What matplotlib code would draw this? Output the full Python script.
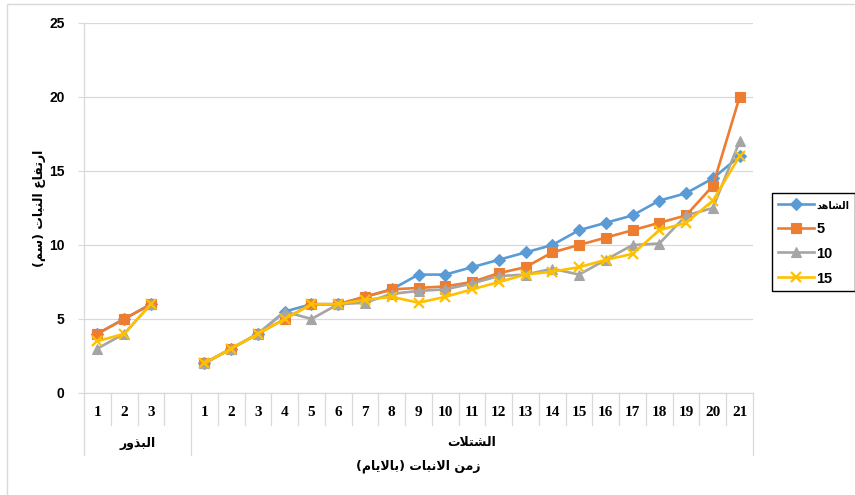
import numpy as np
import matplotlib
matplotlib.use("Agg")
import matplotlib.pyplot as plt
from matplotlib.patches import Rectangle

# ---------------- data ----------------
seed_labels = ["1", "2", "3"]
seedling_labels = [str(i) for i in range(1, 22)]

series_names = ["الشاهد", "5", "10", "15"]

control_seeds = [4, 5, 6]
t5_seeds = [4, 5, 6]
t10_seeds = [3, 4, 6]
t15_seeds = [3.5, 4, 6]

control_seedlings = [2, 3, 4, 5.5, 6, 6, 6.5, 7, 8, 8, 8.5, 9, 9.5, 10, 11, 11.5, 12, 13, 13.5, 14.5, 16]
t5_seedlings = [2, 3, 4, 5, 6, 6, 6.5, 7, 7.1, 7.2, 7.5, 8.1, 8.5, 9.5, 10, 10.5, 11, 11.5, 12, 14, 20]
t10_seedlings = [2, 3, 4, 5.5, 5, 6, 6.1, 6.7, 6.9, 7, 7.4, 7.9, 8, 8.4, 8, 9, 10, 10.1, 12, 12.5, 17]
t15_seedlings = [2, 3, 4, 5, 6, 6, 6.3, 6.5, 6.1, 6.5, 7, 7.5, 8, 8.2, 8.5, 9, 9.4, 11, 11.5, 13, 16]

group_names = ["البذور", "الشتلات"]
x_title = "زمن الانبات (بالايام)"
y_title = "ارتفاع النبات (سم)"

# ------------- simple Arabic shaping (presentation forms, visual order) -------------
FORMS = {
    'ا': (0xFE8D, 0xFE8E, None, None),
    'ب': (0xFE8F, 0xFE90, 0xFE91, 0xFE92),
    'ت': (0xFE95, 0xFE96, 0xFE97, 0xFE98),
    'د': (0xFEA9, 0xFEAA, None, None),
    'ذ': (0xFEAB, 0xFEAC, None, None),
    'ر': (0xFEAD, 0xFEAE, None, None),
    'ز': (0xFEAF, 0xFEB0, None, None),
    'س': (0xFEB1, 0xFEB2, 0xFEB3, 0xFEB4),
    'ش': (0xFEB5, 0xFEB6, 0xFEB7, 0xFEB8),
    'ع': (0xFEC9, 0xFECA, 0xFECB, 0xFECC),
    'ف': (0xFED1, 0xFED2, 0xFED3, 0xFED4),
    'ل': (0xFEDD, 0xFEDE, 0xFEDF, 0xFEE0),
    'م': (0xFEE1, 0xFEE2, 0xFEE3, 0xFEE4),
    'ن': (0xFEE5, 0xFEE6, 0xFEE7, 0xFEE8),
    'ه': (0xFEE9, 0xFEEA, 0xFEEB, 0xFEEC),
    'و': (0xFEED, 0xFEEE, None, None),
    'ي': (0xFEF1, 0xFEF2, 0xFEF3, 0xFEF4),
    '\ufefb': (0xFEFB, 0xFEFC, None, None),
}


def ar(s):
    s = s.replace('لا', '\ufefb')
    out = []
    for i, c in enumerate(s):
        if c not in FORMS:
            out.append(c)
            continue
        f = FORMS[c]
        prev = s[i - 1] if i > 0 else ''
        nxt = s[i + 1] if i + 1 < len(s) else ''
        jp = prev in FORMS and FORMS[prev][2] is not None
        jn = f[2] is not None and nxt in FORMS
        if jp and jn:
            code = f[3]
        elif jp:
            code = f[1]
        elif jn:
            code = f[2]
        else:
            code = f[0]
        out.append(chr(code))
    vis = ''.join(reversed(out))
    return vis.translate(str.maketrans('()', ')('))


# ---------------- figure ----------------
W, H = 855, 495
fig = plt.figure(figsize=(W / 100, H / 100), dpi=100)
fig.patch.set_facecolor("white")

ax_l, ax_r, ax_t, ax_b = 84, 753, 23, 393
ax = fig.add_axes([ax_l / W, 1 - ax_b / H, (ax_r - ax_l) / W, (ax_b - ax_t) / H])

labels = seed_labels + [""] + seedling_labels
x = np.arange(len(labels))
gap = [np.nan]

colors = ["#5B9BD5", "#ED7D31", "#A5A5A5", "#FFC000"]
markers = ["D", "s", "^", "x"]
msizes = [6, 7, 7.5, 7]
series = [
    np.concatenate([control_seeds, gap, control_seedlings]),
    np.concatenate([t5_seeds, gap, t5_seedlings]),
    np.concatenate([t10_seeds, gap, t10_seedlings]),
    np.concatenate([t15_seeds, gap, t15_seedlings]),
]

handles = []
for y, c, m, ms, name in zip(series, colors, markers, msizes, series_names):
    mew = 1.6 if m == "x" else 0.8
    ln, = ax.plot(x, y, color=c, lw=1.9, marker=m, markersize=ms,
                  markerfacecolor=c, markeredgecolor=c, markeredgewidth=mew,
                  zorder=3)
    handles.append(ln)

ax.set_xlim(-0.5, len(labels) - 0.5)
ax.set_ylim(0, 25)
ax.set_yticks(np.arange(0, 26, 5))
ax.yaxis.grid(True, color="#D9D9D9", lw=0.9)
ax.set_axisbelow(True)
for s in ["top", "right"]:
    ax.spines[s].set_visible(False)
ax.spines["left"].set_color("#D9D9D9")
ax.spines["bottom"].set_color("#D9D9D9")
ax.spines["left"].set_linewidth(0.9)
ax.spines["bottom"].set_linewidth(0.9)

for t in ax.get_yticklabels():
    t.set_fontfamily("Liberation Sans")
    t.set_fontweight("bold")
    t.set_fontsize(10)
ax.tick_params(axis="y", length=4, color="#D9D9D9", pad=10, labelcolor="#000000")

ax.set_xticks(x)
ax.set_xticklabels(labels, fontfamily="Liberation Serif", fontweight="bold", fontsize=11)
ax.tick_params(axis="x", length=0, pad=9, labelcolor="#000000")

# category separators (multi-level axis)
axh = ax_b - ax_t
tr = ax.get_xaxis_transform()
inner_bottom = -(425 - ax_b) / axh
group_bottom = -(455 - ax_b) / axh
n_seed_grp = len(seed_labels) + 1
group_edges = [-0.5, n_seed_grp - 0.5, len(labels) - 0.5]
for k in range(len(labels) + 1):
    xe = k - 0.5
    yb = group_bottom if xe in group_edges else inner_bottom
    ax.plot([xe, xe], [0, yb], transform=tr, color="#D9D9D9", lw=0.9, clip_on=False)

arfont = dict(family="DejaVu Sans", fontweight="bold", color="#000000")
group_centers = [(group_edges[0] + group_edges[1]) / 2, (group_edges[1] + group_edges[2]) / 2]
for gx, gname in zip(group_centers, group_names):
    ax.text(gx, -(443 - ax_b) / axh, ar(gname), transform=tr, ha="center", va="center",
            fontsize=9, **arfont)

ax.text(0.5, -(466 - ax_b) / axh, ar(x_title), transform=ax.transAxes, ha="center",
        va="center", fontsize=9, **arfont)
fig.text(40 / W, 1 - 208 / H, ar(y_title), rotation=90, ha="center", va="center",
         fontsize=9, **arfont)

leg = fig.legend(handles, [ar(series_names[0])] + series_names[1:], loc="center left",
                 bbox_to_anchor=(772 / W, 1 - 242 / H), frameon=True, fancybox=False,
                 edgecolor="#000000", framealpha=1, handlelength=2.5, handletextpad=0.15,
                 labelspacing=0.75, borderpad=0.4, borderaxespad=0,
                 prop=dict(family=["Liberation Sans", "DejaVu Sans"], weight="bold", size=10.5))
leg.get_frame().set_linewidth(1.0)
leg.get_texts()[0].set_fontfamily("DejaVu Sans")
leg.get_texts()[0].set_fontsize(7)

# chart-area border
fig.patches.append(Rectangle((7 / W, -0.1), 1.2, 1.1 - 4 / H, transform=fig.transFigure,
                             fill=False, edgecolor="#D9D9D9", lw=1.0))

fig.savefig("out.png", dpi=100, facecolor="white")
